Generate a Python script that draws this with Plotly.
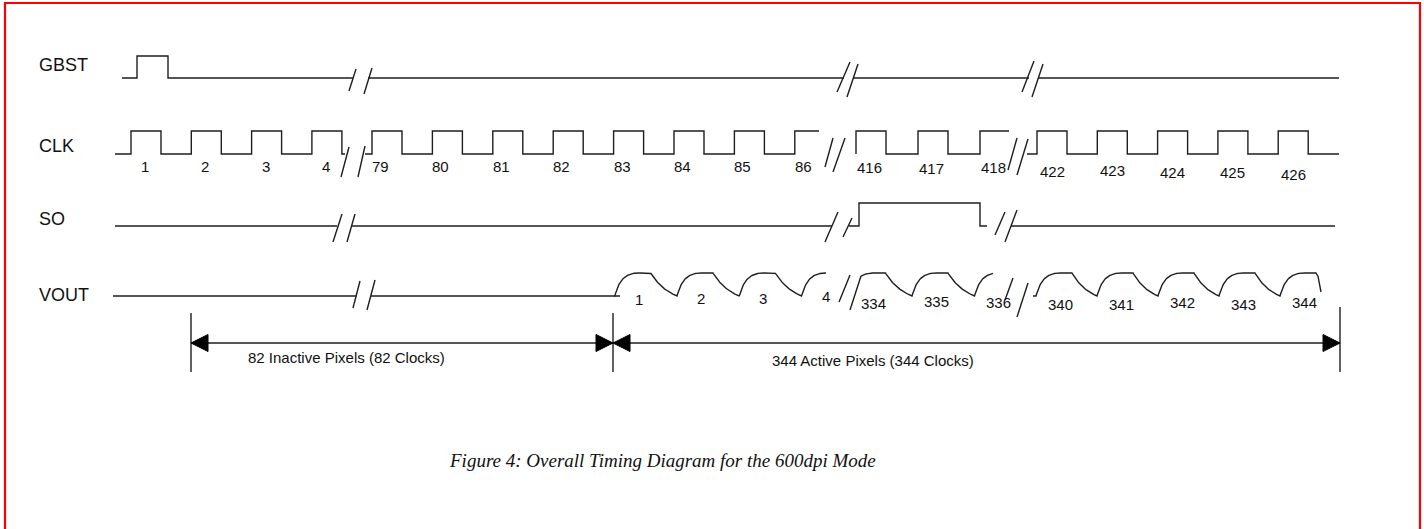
import numpy as np
import plotly.graph_objects as go

# ---------------- data ----------------
signal_names = ["GBST", "CLK", "SO", "VOUT"]
clk_labels = [["1", "2", "3", "4"],
              ["79", "80", "81", "82", "83", "84", "85", "86"],
              ["416", "417", "418"],
              ["422", "423", "424", "425", "426"]]
vout_labels = [["1", "2", "3", "4"],
               ["334", "335", "336"],
               ["340", "341", "342", "343", "344"]]
inactive_pixels = 82
active_pixels = 344
caption = "Figure 4: Overall Timing Diagram for the 600dpi Mode"

# ---------------- layout geometry (pixels) ----------------
W, H = 1424, 529
LINE = dict(color="#1e1e1e", width=1.4)
SANS = "Liberation Sans, Arial, sans-serif"
SERIF = "Liberation Serif, Times New Roman, serif"

levels = {"GBST": (78, 56), "CLK": (154, 131), "SO": (226, 203), "VOUT": (296, 273)}
name_y = {"GBST": 64.5, "CLK": 146, "SO": 219, "VOUT": 294.5}
name_x = 37

# break marks: (x centre, y centre, half height, half dx)
breaks = {
    "GBST": [(352.5, 80, 11, 3.5), (368, 81, 13, 4), (843.5, 77, 15, 6.5), (852.5, 80.5, 16.5, 5.5),
             (1028, 76.5, 15.5, 6), (1037.5, 80.5, 16.5, 5.5)],
    "CLK": [(345, 162, 15, 4), (361.5, 161.5, 15.5, 3.5), (829, 152.5, 14.5, 4), (839, 155, 17, 6),
            (1012.5, 154, 16, 4.5), (1022.5, 157, 18, 5.5)],
    "SO": [(337.5, 228, 14, 4.5), (351, 228, 14, 4), (831.5, 227, 15, 6.5), (847.5, 227.5, 9.5, 4.5),
           (1000, 223.5, 11.5, 5), (1011, 226, 16, 6)],
    "VOUT": [(356.5, 294.5, 13.5, 3.5), (371, 295, 15, 4), (844.5, 288.5, 13.5, 5.5), (855.5, 293, 17, 5.5),
             (1009, 289, 11, 4), (1022.5, 300, 17, 5.5)],
}

gbst_pieces = [(122, 353), (368, 844), (853, 1029), (1038, 1339)]
gbst_pulse = (137, 168)
so_pieces = [(115, 337), (351, 832), (849, 987), (1011, 1335)]
so_pulse = (859, 980)
vout_base = [(113, 356.5), (371, 620)]

clk_geom = [dict(start=115, rise0=131, period=60.3, end=345, lab_dx=-1, lab_y=[166] * 4),
            dict(start=365, rise0=372, period=60.4, end=819, lab_dx=-6.5, lab_y=[166] * 8),
            dict(start=856, rise0=856, period=62.0, end=1009, lab_dx=-2, lab_y=[167, 168, 167]),
            dict(start=1027, rise0=1037, period=60.3, end=1339, lab_dx=0,
                 lab_y=[171.5, 170.5, 172.5, 172.5, 174])]
clk_hw = 30

vout_geom = [dict(start=614, b0=614.7, period=62.3, end=826, lab_y=[299, 298.5, 298.5, 296]),
             dict(start=861, b0=849.5, period=62.5, end=993, lab_y=[303, 301.5, 302.5]),
             dict(start=1033, b0=1036, period=61.0, end=1318, lab_y=[304, 304.5, 302, 304.5, 302])]
vout_rise, vout_flat, vout_lab_dx = 21, 15, 24

dim_y = 343
dim_x = [191, 613, 1340]
dim_v = [(313, 372), (313, 372), (307, 372)]
arrow_len, arrow_hw = 17, 8.5
dim_text_pos = [(346, 357), (873, 360)]
caption_pos = (662, 460)

fig = go.Figure()


def add_line(xs, ys):
    fig.add_trace(go.Scatter(x=xs, y=ys, mode="lines", line=LINE, hoverinfo="skip", showlegend=False))


def label(x, y, text, size, family=SANS, anchor="center", italic=False):
    fig.add_annotation(x=x, y=y, xref="x", yref="y", text=text, showarrow=False,
                       xanchor=anchor, yanchor="middle",
                       font=dict(family=family, size=size, color="#111",
                                 style="italic" if italic else "normal"))


# signal names
for nm in signal_names:
    label(name_x, name_y[nm], nm, 18, anchor="left")

# break marks
for nm in signal_names:
    for xc, yc, hh, dx in breaks[nm]:
        add_line([xc - dx, xc + dx], [yc + hh, yc - hh])

# GBST
lo, hi = levels["GBST"]
for i, (a, b) in enumerate(gbst_pieces):
    if i == 0:
        p0, p1 = gbst_pulse
        add_line([a, p0, p0, p1, p1, b], [lo, lo, hi, hi, lo, lo])
    else:
        add_line([a, b], [lo, lo])

# CLK
lo, hi = levels["CLK"]
for g, labs in zip(clk_geom, clk_labels):
    xs, ys = [g["start"]], [lo]
    ended = False
    for k in range(len(labs)):
        r = g["rise0"] + k * g["period"]
        f = r + clk_hw
        xs += [r, r]
        ys += [lo, hi]
        if f < g["end"]:
            xs += [f, f]
            ys += [hi, lo]
        else:
            xs.append(g["end"])
            ys.append(hi)
            ended = True
        label(r + clk_hw / 2 + g["lab_dx"], g["lab_y"][k], labs[k], 15)
    if not ended:
        xs.append(g["end"])
        ys.append(lo)
    add_line(xs, ys)

# SO
lo, hi = levels["SO"]
for i, (a, b) in enumerate(so_pieces):
    if i == 2:
        p0, p1 = so_pulse
        add_line([a, p0, p0, p1, p1, b], [lo, lo, hi, hi, lo, lo])
    else:
        add_line([a, b], [lo, lo])

# VOUT
lo, hi = levels["VOUT"]
amp = lo - hi
for a, b in vout_base:
    add_line([a, b], [lo, lo])


def vout_y(x, b0, P):
    if x < b0:
        return lo
    t = (x - b0) % P
    if t < vout_rise:
        u = t / vout_rise
        return lo - amp * (1 - np.exp(-3.2 * u)) / (1 - np.exp(-3.2))
    if t < vout_rise + vout_flat:
        return hi
    u = (t - vout_rise - vout_flat) / (P - vout_rise - vout_flat)
    return hi + amp * (1 - np.exp(-1.4 * u)) / (1 - np.exp(-1.4))


for gi, (g, labs) in enumerate(zip(vout_geom, vout_labels)):
    xs = list(np.arange(g["start"], g["end"], 0.5)) + [g["end"]]
    ys = [vout_y(x, g["b0"], g["period"]) for x in xs]
    if gi == len(vout_geom) - 1:
        xs += [g["end"] + 3]
        ys += [lo - 4]
    add_line(xs, ys)
    for k, t in enumerate(labs):
        label(g["b0"] + k * g["period"] + vout_lab_dx, g["lab_y"][k], t, 15)

# dimension lines
add_line([dim_x[0], dim_x[2]], [dim_y, dim_y])
for x, (y0, y1) in zip(dim_x, dim_v):
    add_line([x, x], [y0, y1])


def arrow(tip, direction):
    base = tip - direction * arrow_len
    fig.add_trace(go.Scatter(x=[tip, base, base, tip], y=[dim_y, dim_y - arrow_hw, dim_y + arrow_hw, dim_y],
                             mode="lines", fill="toself", fillcolor="#000", line=dict(color="#000", width=1),
                             hoverinfo="skip", showlegend=False))


arrow(dim_x[0], -1)
arrow(dim_x[1], 1)
arrow(dim_x[1], -1)
arrow(dim_x[2], 1)

label(dim_text_pos[0][0], dim_text_pos[0][1], f"{inactive_pixels} Inactive Pixels ({inactive_pixels} Clocks)", 15)
label(dim_text_pos[1][0], dim_text_pos[1][1], f"{active_pixels} Active Pixels ({active_pixels} Clocks)", 15)
label(caption_pos[0], caption_pos[1], caption, 19, family=SERIF, italic=True)

# red frame
fig.add_shape(type="rect", xref="x", yref="y", x0=5, x1=1420, y0=3, y1=600,
              line=dict(color="#ff0000", width=2.2), fillcolor="rgba(0,0,0,0)")

fig.update_layout(width=W, height=H, margin=dict(l=0, r=0, t=0, b=0),
                  paper_bgcolor="white", plot_bgcolor="white",
                  xaxis=dict(range=[0, W], visible=False, fixedrange=True),
                  yaxis=dict(range=[H, 0], visible=False, fixedrange=True))

fig.write_html("out.html", config={"displayModeBar": False},
               post_script="document.body.style.margin='0';document.body.style.overflow='hidden';")
